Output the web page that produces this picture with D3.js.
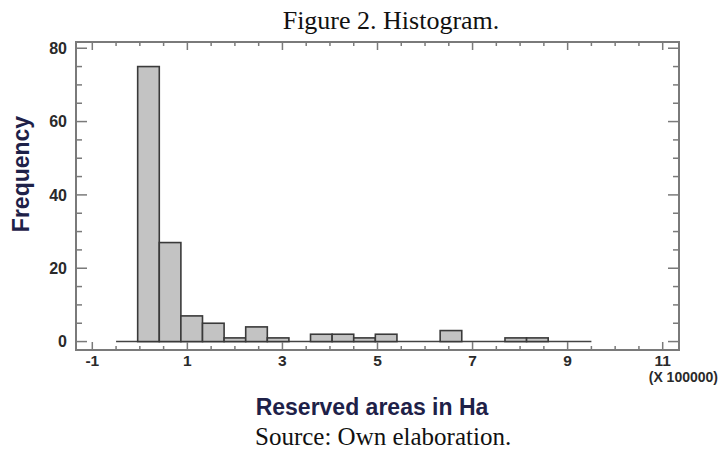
<!DOCTYPE html>
<html>
<head>
<meta charset="utf-8">
<script src="https://cdn.jsdelivr.net/npm/d3@7"></script>
<style>
  html, body { margin: 0; padding: 0; background: #fff; }
  svg { display: block; }
</style>
</head>
<body>
<svg id="chart" width="720" height="450"></svg>
<script>
// ---- data ----
const binStart = -0.5;          // (X 100000) Ha
const binEnd = 9.5;
const binCounts = [0, 75, 27, 7, 5, 1, 4, 1, 0, 2, 2, 1, 2, 0, 0, 3, 0, 0, 1, 1, 0, 0];
const xTickLabels = [-1, 1, 3, 5, 7, 9, 11];
const yTickLabels = [0, 20, 40, 60, 80];
const xDomain = [-1.343, 11.343];
const yDomain = [-2.3, 81.7];

const title = "Figure 2. Histogram.";
const xLabel = "Reserved areas in Ha";
const yLabel = "Frequency";
const xUnit = "(X 100000)";
const source = "Source: Own elaboration.";

// ---- layout ----
const svg = d3.select("#chart");
const L = 76, R = 679, T = 42, B = 350;
const x = d3.scaleLinear().domain(xDomain).range([L, R]);
const y = d3.scaleLinear().domain(yDomain).range([B, T]);

const binW = (binEnd - binStart) / binCounts.length;
const bins = binCounts.map((c, i) => ({ x0: binStart + i * binW, x1: binStart + (i + 1) * binW, c }));

// title
svg.append("text").attr("x", 391).attr("y", 29).attr("text-anchor", "middle")
  .attr("font-family", "'Liberation Serif', 'Times New Roman', serif").attr("font-size", 26)
  .attr("fill", "#111").text(title);

// baseline of the histogram (zero-count bins)
svg.append("line").attr("x1", x(binStart)).attr("x2", x(binEnd))
  .attr("y1", y(0)).attr("y2", y(0)).attr("stroke", "#444").attr("stroke-width", 1.6);

// bars
svg.append("g").selectAll("rect").data(bins.filter(d => d.c > 0)).join("rect")
  .attr("x", d => x(d.x0)).attr("width", d => x(d.x1) - x(d.x0))
  .attr("y", d => y(d.c)).attr("height", d => y(0) - y(d.c))
  .attr("fill", "#c3c3c3").attr("stroke", "#3a3a3a").attr("stroke-width", 1.6);

// frame
const frameCol = "#7a7a7a";
svg.append("rect").attr("x", L).attr("y", T).attr("width", R - L).attr("height", B - T)
  .attr("fill", "none").attr("stroke", frameCol).attr("stroke-width", 2);

// ticks
const xMinor = d3.range(-1, 11.01, 0.5);
const yMinor = d3.range(0, 80.01, 5);
const tg = svg.append("g").attr("stroke", frameCol).attr("stroke-width", 1.5);
xMinor.forEach(v => {
  const major = xTickLabels.includes(v);
  const len = major ? 8 : 4;
  tg.append("line").attr("x1", x(v)).attr("x2", x(v)).attr("y1", B).attr("y2", B - len);
  tg.append("line").attr("x1", x(v)).attr("x2", x(v)).attr("y1", T).attr("y2", T + len);
});
yMinor.forEach(v => {
  const major = yTickLabels.includes(v);
  const len = major ? 11 : 6;
  tg.append("line").attr("y1", y(v)).attr("y2", y(v)).attr("x1", L).attr("x2", L + len);
  tg.append("line").attr("y1", y(v)).attr("y2", y(v)).attr("x1", R).attr("x2", R - len);
});

// tick labels
const tickFont = "'Liberation Sans', Arial, sans-serif";
svg.append("g").selectAll("text").data(xTickLabels).join("text")
  .attr("x", d => x(d)).attr("y", 366).attr("text-anchor", "middle")
  .attr("font-family", tickFont).attr("font-weight", "bold").attr("font-size", 15.5)
  .attr("fill", "#2a2a2a").text(d => d);
svg.append("g").selectAll("text").data(yTickLabels).join("text")
  .attr("x", 67).attr("y", d => y(d)).attr("dy", "0.36em").attr("text-anchor", "end")
  .attr("font-family", tickFont).attr("font-weight", "bold").attr("font-size", 16)
  .attr("fill", "#2a2a2a").text(d => d);
svg.append("text").attr("x", 718).attr("y", 382).attr("text-anchor", "end")
  .attr("font-family", tickFont).attr("font-weight", "bold").attr("font-size", 14)
  .attr("fill", "#2a2a2a").text(xUnit);

// axis labels
svg.append("text").attr("x", 372).attr("y", 415).attr("text-anchor", "middle")
  .attr("font-family", tickFont).attr("font-weight", "bold").attr("font-size", 23)
  .attr("fill", "#1e2148").text(xLabel);
svg.append("text").attr("transform", "translate(29,174) rotate(-90)").attr("text-anchor", "middle")
  .attr("font-family", tickFont).attr("font-weight", "bold").attr("font-size", 23)
  .attr("fill", "#1e2148").text(yLabel);

// source
svg.append("text").attr("x", 255).attr("y", 445).attr("text-anchor", "start")
  .attr("font-family", "'Liberation Serif', 'Times New Roman', serif").attr("font-size", 25)
  .attr("fill", "#111").text(source);
</script>
</body>
</html>
